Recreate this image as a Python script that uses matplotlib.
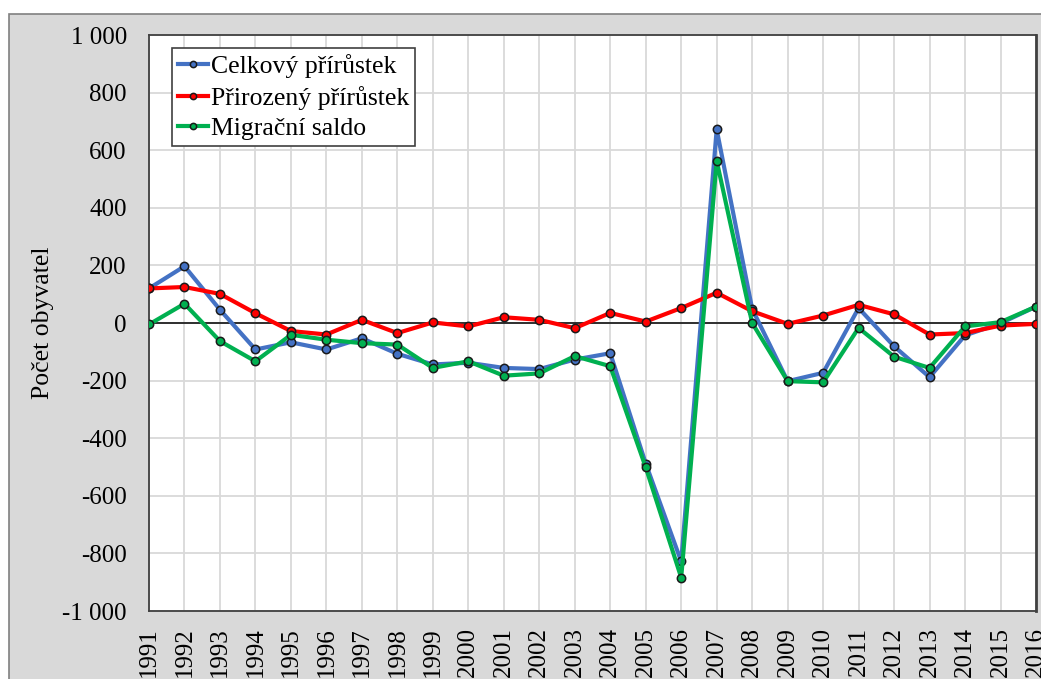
import matplotlib.pyplot as plt
from matplotlib.patches import Rectangle
from matplotlib.ticker import FuncFormatter

plt.rcParams['font.family'] = ['Liberation Serif', 'DejaVu Serif']
plt.rcParams['axes.unicode_minus'] = False

# data
years = list(range(1991, 2017))
celkovy = [120, 197, 46, -92, -67, -92, -53, -107, -144, -138, -156, -160, -127, -105,
           -488, -828, 672, 49, -202, -173, 52, -81, -188, -43, -1, 57]
prirozeny = [120, 125, 101, 34, -28, -40, 11, -35, 2, -12, 20, 11, -18, 35,
             5, 52, 105, 41, -3, 26, 63, 30, -40, -35, -9, -3]
migracni = [-5, 67, -63, -133, -41, -58, -70, -75, -156, -133, -183, -175, -115, -150,
            -501, -884, 563, 0, -202, -206, -17, -117, -156, -12, 3, 57]
labels = ['Celkový přírůstek', 'Přirozený přírůstek', 'Migrační saldo']
colors = ['#4472C4', '#FF0000', '#00B050']

W, H = 1041, 679
fig = plt.figure(figsize=(W / 100, H / 100), dpi=100)
fig.patch.set_facecolor('white')
# grey chart area with thin border (top/left visible)
fig.add_artist(Rectangle((9 / W, -0.05), 1.1, 1 - 14 / H + 0.05, transform=fig.transFigure,
                         facecolor='#d9d9d9', edgecolor='#808080', lw=1.2, zorder=0))

ax = fig.add_axes([149 / W, 1 - 611 / H, (1036 - 149) / W, (611 - 35) / H])
ax.set_facecolor('white')

for vals, lab, c in zip([celkovy, prirozeny, migracni], labels, colors):
    ax.plot(years, vals, color=c, lw=3, marker='o', ms=6, mfc=c, mec='#1a1a1a', mew=1.1,
            label=lab, zorder=3)

ax.axhline(0, color='black', lw=1.1, zorder=2)
ax.set_xlim(1991, 2016)
ax.set_ylim(-1000, 1000)
ax.set_xticks(years)
ax.set_xticklabels([str(y) for y in years], rotation=90, va='top')
ax.set_yticks(range(-1000, 1001, 200))
ax.yaxis.set_major_formatter(FuncFormatter(lambda v, p: f'{int(v):,}'.replace(',', ' ')))
ax.tick_params(axis='both', length=0, labelsize=18)
ax.tick_params(axis='y', pad=16)
ax.tick_params(axis='x', pad=11.5)
ax.grid(True, color='#d9d9d9', lw=1.3, zorder=0)
ax.set_axisbelow(True)
for s in ax.spines.values():
    s.set_color('#404040')
    s.set_linewidth(1.3)
ax.spines['right'].set_linewidth(2)

ax.set_ylabel('Počet obyvatel', fontsize=18.5, labelpad=6)

leg = ax.legend(loc='upper left', bbox_to_anchor=(0.026, 0.978), borderaxespad=0,
                fontsize=18.5, handlelength=1.15, handletextpad=0.1, markerscale=0.75,
                fancybox=False, edgecolor='#404040', framealpha=1,
                borderpad=0.25, labelspacing=0.29)
leg.get_frame().set_linewidth(1.2)

fig.savefig('out.png', dpi=100)
